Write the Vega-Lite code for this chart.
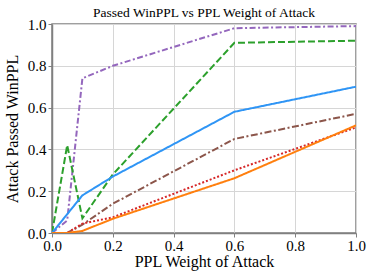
{
  "$schema": "https://vega.github.io/schema/vega-lite/v6.json",
  "width": 304,
  "height": 209,
  "padding": {"left": 52, "top": 24, "right": 18, "bottom": 47},
  "autosize": {"type": "none"},
  "config": {
    "font": "Liberation Serif",
    "style": {
      "guide-label": {"font": "Liberation Serif", "fontSize": 15, "fill": "#000"},
      "guide-title": {"font": "Liberation Serif", "fontSize": 16, "fontWeight": "normal", "fill": "#000"},
      "group-title": {"font": "Liberation Serif", "fontSize": 13.5, "fontWeight": "normal", "fill": "#000"}
    },
    "view": {"stroke": "#808080", "strokeWidth": 1.5},
    "axis": {
      "grid": true,
      "gridColor": "#d6d6d6",
      "gridWidth": 1,
      "domainColor": "#808080",
      "domainWidth": 1.5,
      "tickColor": "#808080",
      "tickSize": 4,
      "labelFont": "Liberation Serif",
      "labelFontSize": 15,
      "labelColor": "#000",
      "titleColor": "#000"
    }
  },
  "title": {
    "text": "Passed WinPPL vs PPL Weight of Attack",
    "font": "Liberation Serif",
    "fontSize": 13.5,
    "fontWeight": "normal",
    "color": "#000",
    "offset": -2
  },
  "data": {
    "values": [
      {"x": 0, "y": 0, "s": "purple"},
      {"x": 0.05, "y": 0.06, "s": "purple"},
      {"x": 0.1, "y": 0.74, "s": "purple"},
      {"x": 0.2, "y": 0.8, "s": "purple"},
      {"x": 0.6, "y": 0.98, "s": "purple"},
      {"x": 1.0, "y": 0.99, "s": "purple"},
      {"x": 0, "y": 0, "s": "green"},
      {"x": 0.05, "y": 0.42, "s": "green"},
      {"x": 0.1, "y": 0.07, "s": "green"},
      {"x": 0.2, "y": 0.28, "s": "green"},
      {"x": 0.6, "y": 0.91, "s": "green"},
      {"x": 1.0, "y": 0.92, "s": "green"},
      {"x": 0, "y": 0, "s": "blue"},
      {"x": 0.05, "y": 0.09, "s": "blue"},
      {"x": 0.1, "y": 0.18, "s": "blue"},
      {"x": 0.2, "y": 0.27, "s": "blue"},
      {"x": 0.6, "y": 0.58, "s": "blue"},
      {"x": 1.0, "y": 0.7, "s": "blue"},
      {"x": 0, "y": 0, "s": "brown"},
      {"x": 0.05, "y": 0.0, "s": "brown"},
      {"x": 0.1, "y": 0.04, "s": "brown"},
      {"x": 0.2, "y": 0.14, "s": "brown"},
      {"x": 0.6, "y": 0.45, "s": "brown"},
      {"x": 1.0, "y": 0.57, "s": "brown"},
      {"x": 0, "y": 0, "s": "red"},
      {"x": 0.05, "y": 0.0, "s": "red"},
      {"x": 0.1, "y": 0.045, "s": "red"},
      {"x": 0.2, "y": 0.075, "s": "red"},
      {"x": 0.6, "y": 0.3, "s": "red"},
      {"x": 1.0, "y": 0.505, "s": "red"},
      {"x": 0, "y": 0, "s": "orange"},
      {"x": 0.05, "y": 0.0, "s": "orange"},
      {"x": 0.1, "y": 0.01, "s": "orange"},
      {"x": 0.2, "y": 0.068, "s": "orange"},
      {"x": 0.6, "y": 0.262, "s": "orange"},
      {"x": 1.0, "y": 0.515, "s": "orange"}
    ]
  },
  "mark": {"type": "line", "strokeWidth": 2, "clip": true},
  "encoding": {
    "x": {
      "field": "x",
      "type": "quantitative",
      "scale": {"domain": [0, 1], "nice": false},
      "axis": {
        "values": [0, 0.2, 0.4, 0.6, 0.8, 1.0],
        "format": ".1f",
        "title": "PPL Weight of Attack",
        "labelFont": "Liberation Serif",
        "labelFontSize": 15,
        "labelPadding": 1,
        "labelFlush": false,
        "titleFont": "Liberation Serif",
        "titleFontSize": 16,
        "titleFontWeight": "normal",
        "titlePadding": 0
      }
    },
    "y": {
      "field": "y",
      "type": "quantitative",
      "scale": {"domain": [0, 1], "nice": false},
      "axis": {
        "values": [0, 0.2, 0.4, 0.6, 0.8, 1.0],
        "format": ".1f",
        "title": "Attack Passed WinPPL",
        "labelFont": "Liberation Serif",
        "labelFontSize": 15,
        "labelPadding": 2,
        "labelFlush": false,
        "titleFont": "Liberation Serif",
        "titleFontSize": 16,
        "titleFontWeight": "normal",
        "titlePadding": 7
      }
    },
    "color": {
      "field": "s",
      "type": "nominal",
      "legend": null,
      "scale": {
        "domain": ["purple", "green", "blue", "brown", "red", "orange"],
        "range": ["#9467bd", "#2ca02c", "#2f95f5", "#8c564b", "#d62728", "#ff7f0e"]
      }
    },
    "strokeDash": {
      "field": "s",
      "type": "nominal",
      "legend": null,
      "scale": {
        "domain": ["purple", "green", "blue", "brown", "red", "orange"],
        "range": [[6, 2.5, 2, 2.5], [7, 3], [1, 0], [7, 2.5, 2, 2.5], [2, 2], [1, 0]]
      }
    },
    "order": {"field": "x", "type": "quantitative"}
  }
}
